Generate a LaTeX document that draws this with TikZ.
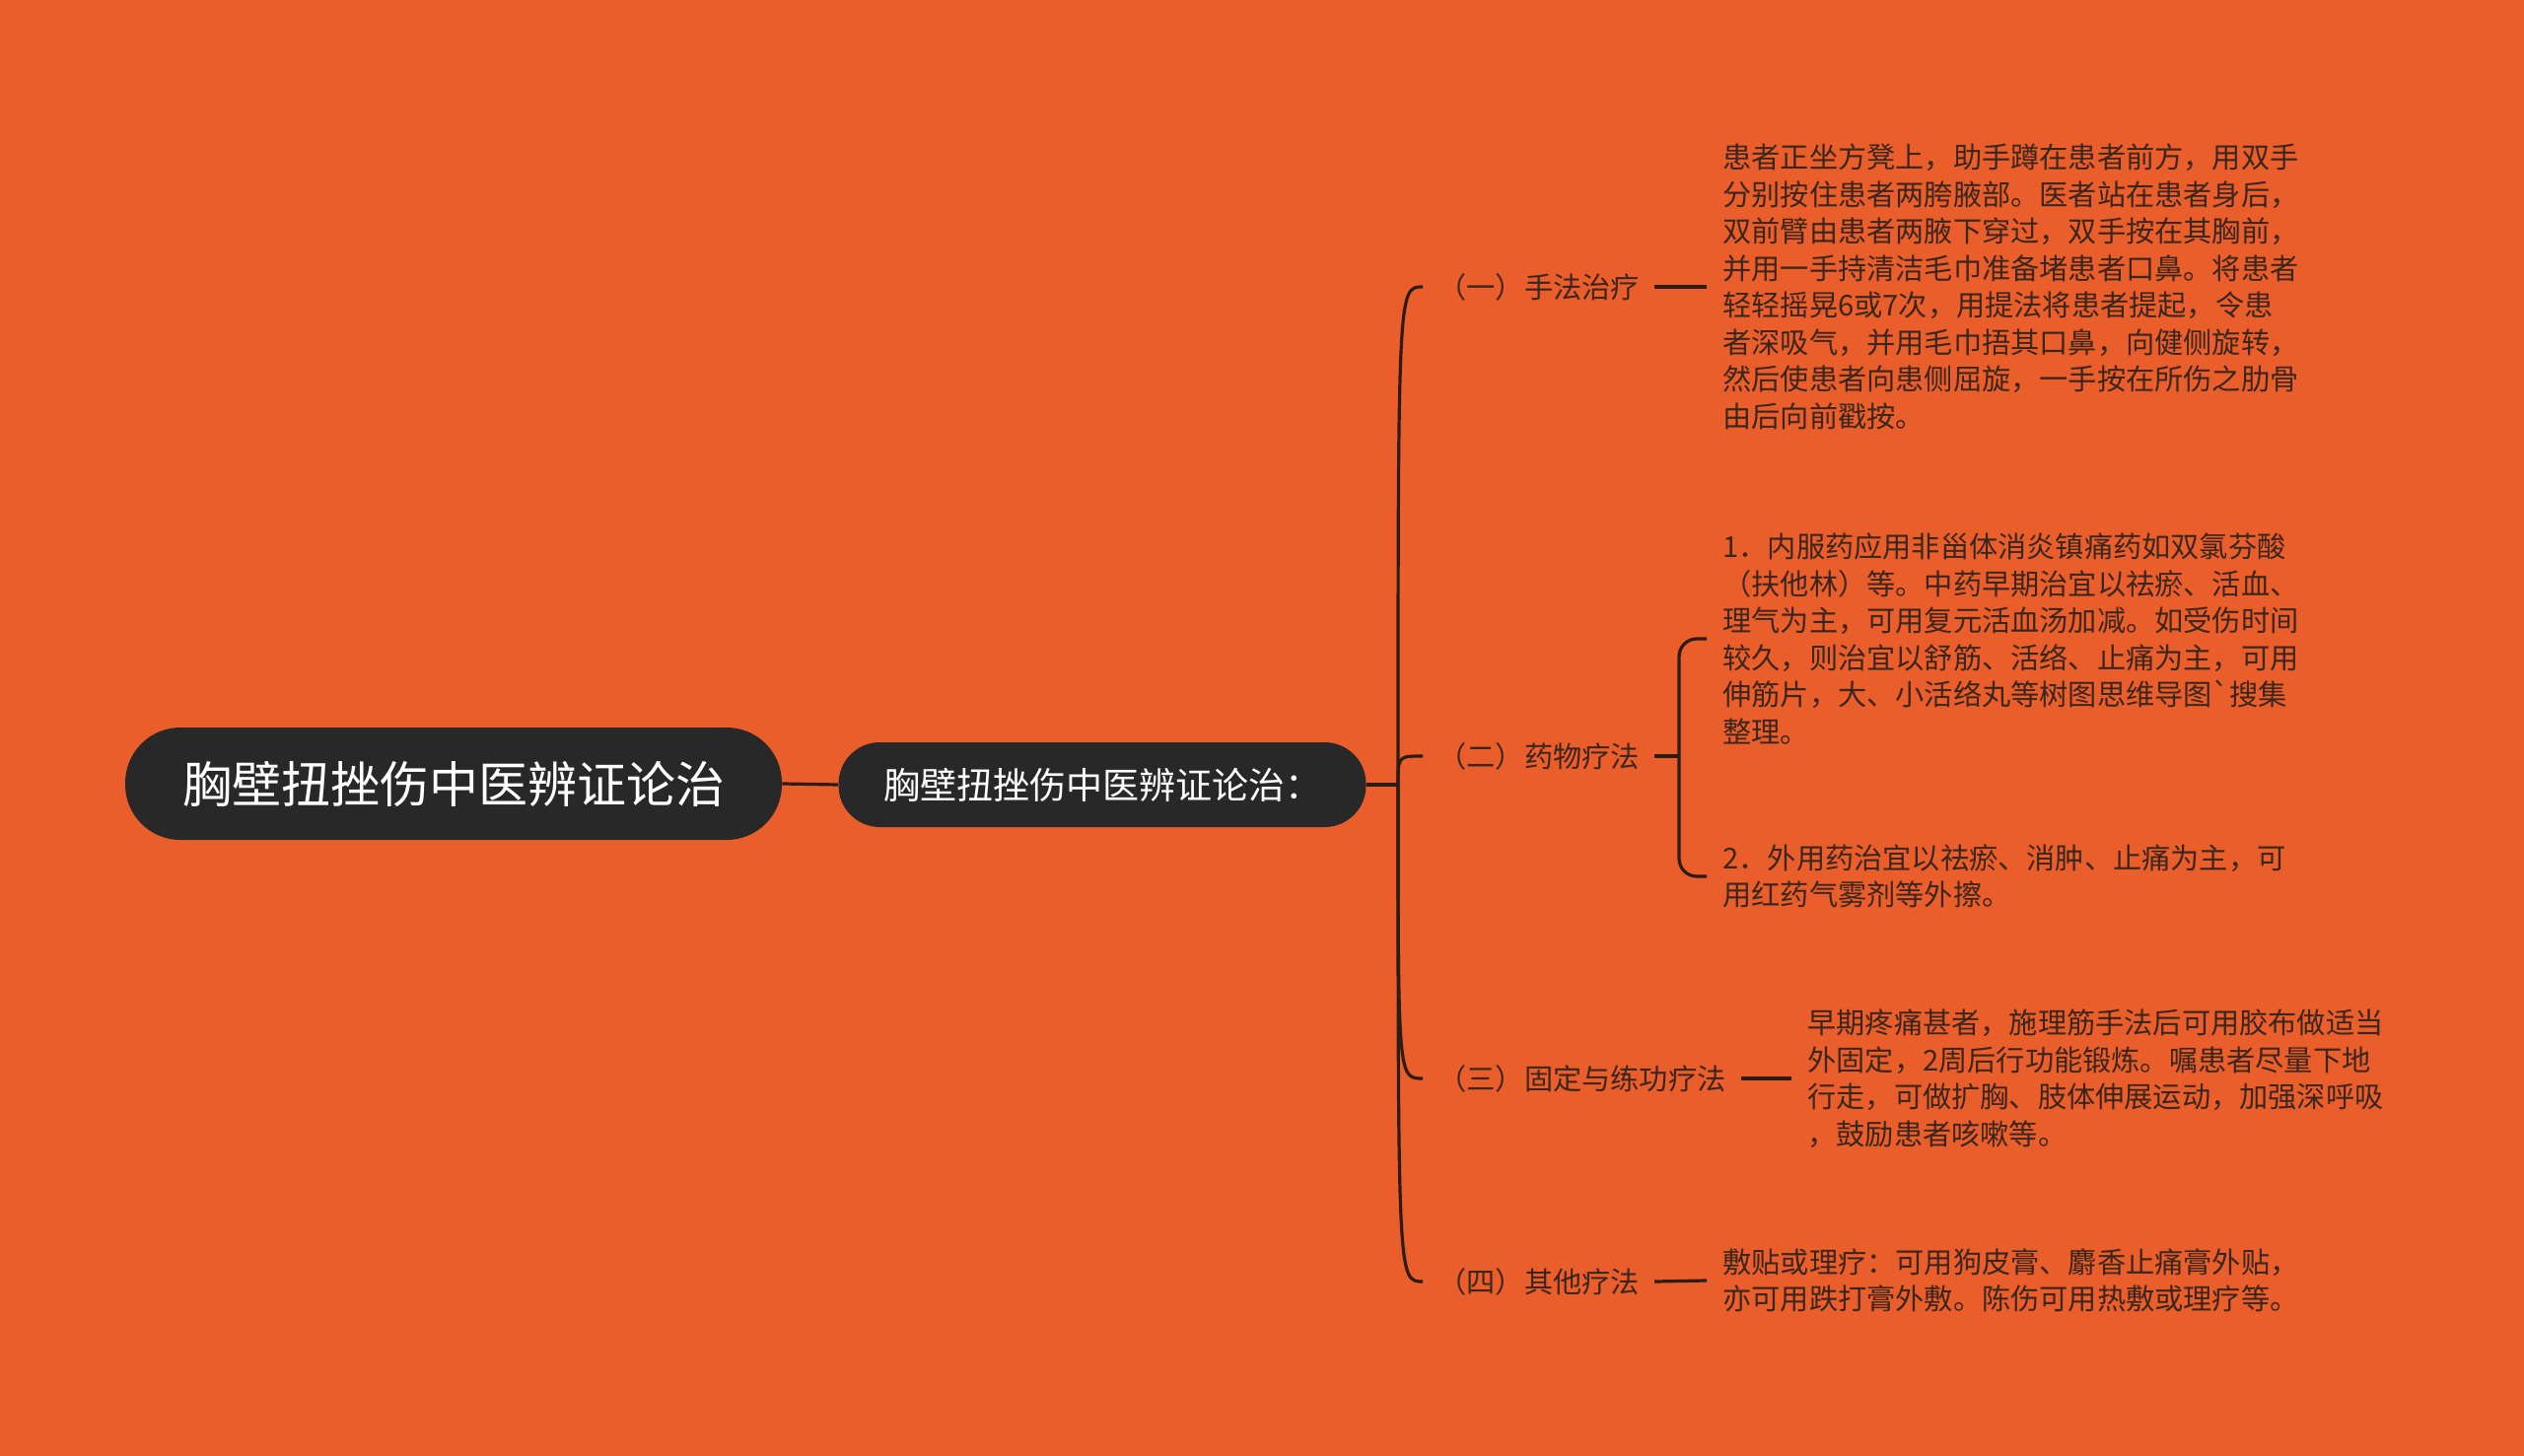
\documentclass[tikz,border=0pt]{standalone}
\usepackage{fontspec}
\setmainfont{Noto Sans CJK SC}[Ligatures=TeXOff]
\usetikzlibrary{positioning}
\definecolor{bgorange}{RGB}{233,94,42}
\definecolor{nodedark}{RGB}{40,40,40}
\definecolor{inkbrown}{RGB}{58,38,28}
\definecolor{linedark}{RGB}{44,28,20}
\begin{document}
\begin{tikzpicture}[x=0.5pt,y=-0.5pt,
  rootbox/.style={fill=nodedark,text=white,rounded corners=28pt,minimum width=333pt,minimum height=57pt,font=\fontsize{25}{30}\selectfont},
  subbox/.style={fill=nodedark,text=white,rounded corners=21pt,minimum width=267.5pt,minimum height=43pt,font=\fontsize{18.5}{22}\selectfont},
  branch/.style={anchor=west,inner xsep=7.5pt,inner ysep=0pt,text=inkbrown,font=\fontsize{14.6}{18.75}\selectfont},
  leaf/.style={anchor=west,inner xsep=8pt,inner ysep=0pt,align=left,text=inkbrown,font=\fontsize{14.6}{18.75}\selectfont},
  link/.style={draw=linedark,line width=1.6pt}]
\fill[bgorange] (0,0) rectangle (2560,1477);
% centre nodes
\node[rootbox] (root) at (460,795) {胸壁扭挫伤中医辨证论治};
\node[subbox] (sub) at (1118,796) {胸壁扭挫伤中医辨证论治：};
\coordinate (hub) at (1418,796);
% branches
\node[branch] (l1) at (1443,291) {（一）手法治疗};
\node[branch] (l2) at (1443,767) {（二）药物疗法};
\node[branch] (l3) at (1443,1094) {（三）固定与练功疗法};
\node[branch] (l4) at (1443,1300) {（四）其他疗法};
% leaves
\node[leaf] (t1) at (1731,291) {患者正坐方凳上，助手蹲在患者前方，用双手\\分别按住患者两胯腋部。医者站在患者身后，\\双前臂由患者两腋下穿过，双手按在其胸前，\\并用一手持清洁毛巾准备堵患者口鼻。将患者\\轻轻摇晃6或7次，用提法将患者提起，令患\\者深吸气，并用毛巾捂其口鼻，向健侧旋转，\\然后使患者向患侧屈旋，一手按在所伤之肋骨\\由后向前戳按。};
\node[leaf] (t2a) at (1731,648) {1．内服药应用非甾体消炎镇痛药如双氯芬酸\\（扶他林）等。中药早期治宜以祛瘀、活血、\\理气为主，可用复元活血汤加减。如受伤时间\\较久，则治宜以舒筋、活络、止痛为主，可用\\伸筋片，大、小活络丸等树图思维导图\symbol{96}搜集\\整理。};
\node[leaf] (t2b) at (1731,889) {2．外用药治宜以祛瘀、消肿、止痛为主，可\\用红药气雾剂等外擦。};
\node[leaf] (t3) at (1817,1094) {早期疼痛甚者，施理筋手法后可用胶布做适当\\外固定，2周后行功能锻炼。嘱患者尽量下地\\行走，可做扩胸、肢体伸展运动，加强深呼吸\\，鼓励患者咳嗽等。};
\node[leaf] (t4) at (1731,1299) {敷贴或理疗：可用狗皮膏、麝香止痛膏外贴，\\亦可用跌打膏外敷。陈伤可用热敷或理疗等。};
% connectors
\draw[link] (root.east) -- (sub.west);
\draw[link] (sub.east) -- (hub);
\foreach \n in {l1,l2,l3,l4}
  \draw[link] (hub) .. controls (hub |- \n.west) .. (\n.west);
\draw[link] (l1.east) -- (t1.west);
\draw[link] (l3.east) -- (t3.west);
\draw[link] (l4.east) -- (t4.west);
\coordinate (fork) at (1703,767);
\draw[link] (l2.east) -- (fork);
\draw[link,rounded corners=9pt] (fork) |- (t2a.west);
\draw[link,rounded corners=9pt] (fork) |- (t2b.west);
\end{tikzpicture}
\end{document}
